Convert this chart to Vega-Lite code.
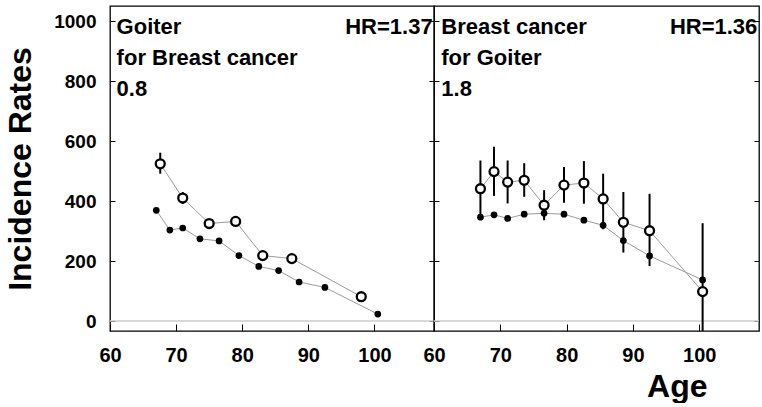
{
  "$schema": "https://vega.github.io/schema/vega-lite/v6.json",
  "padding": {"left": 4, "top": 5, "right": 0, "bottom": 0},
  "background": "white",
  "spacing": 0,
  "bounds": "flush",
  "config": {
    "view": {"stroke": "black", "strokeWidth": 1.3},
    "font": "Liberation Sans",
    "axis": {
      "domain": false, "ticks": false, "grid": true, "gridColor": "black", "gridWidth": 1, "gridOpacity": 1, "zindex": 1,
      "labelFont": "Liberation Sans", "labelFontWeight": "bold", "labelColor": "black",
      "titleFont": "Liberation Sans", "titleFontWeight": "bold", "titleColor": "black",
      "labelOverlap": false, "labelFlush": false, "labelBound": false
    }
  },
  "datasets": {
    "goiter": [
      {"type": "obs", "age": 67.6, "rate": 524, "lo": 491, "hi": 561},
      {"type": "obs", "age": 71.0, "rate": 410, "lo": 390, "hi": 430},
      {"type": "obs", "age": 75.0, "rate": 325, "lo": 315, "hi": 335},
      {"type": "obs", "age": 79.0, "rate": 332, "lo": 322, "hi": 342},
      {"type": "obs", "age": 83.1, "rate": 218, "lo": 210, "hi": 226},
      {"type": "obs", "age": 87.5, "rate": 208, "lo": 200, "hi": 216},
      {"type": "obs", "age": 98.0, "rate": 81, "lo": 74, "hi": 88},
      {"type": "exp", "age": 67.0, "rate": 369},
      {"type": "exp", "age": 69.05, "rate": 303},
      {"type": "exp", "age": 71.0, "rate": 310},
      {"type": "exp", "age": 73.6, "rate": 274},
      {"type": "exp", "age": 76.5, "rate": 267},
      {"type": "exp", "age": 79.5, "rate": 218},
      {"type": "exp", "age": 82.5, "rate": 182},
      {"type": "exp", "age": 85.5, "rate": 168},
      {"type": "exp", "age": 88.6, "rate": 130},
      {"type": "exp", "age": 92.5, "rate": 112},
      {"type": "exp", "age": 100.5, "rate": 23}
    ],
    "breast": [
      {"type": "obs", "age": 67.0, "rate": 441, "lo": 344, "hi": 535},
      {"type": "obs", "age": 69.05, "rate": 498, "lo": 417, "hi": 581},
      {"type": "obs", "age": 71.1, "rate": 463, "lo": 392, "hi": 535},
      {"type": "obs", "age": 73.6, "rate": 469, "lo": 414, "hi": 526},
      {"type": "obs", "age": 76.6, "rate": 386, "lo": 336, "hi": 436},
      {"type": "obs", "age": 79.6, "rate": 453, "lo": 394, "hi": 513},
      {"type": "obs", "age": 82.6, "rate": 460, "lo": 391, "hi": 533},
      {"type": "obs", "age": 85.5, "rate": 407, "lo": 306, "hi": 491},
      {"type": "obs", "age": 88.55, "rate": 329, "lo": 228, "hi": 430},
      {"type": "obs", "age": 92.5, "rate": 301, "lo": 183, "hi": 424},
      {"type": "obs", "age": 100.5, "rate": 98, "lo": -33, "hi": 326},
      {"type": "exp", "age": 67.0, "rate": 346},
      {"type": "exp", "age": 69.05, "rate": 354},
      {"type": "exp", "age": 71.1, "rate": 342},
      {"type": "exp", "age": 73.6, "rate": 356},
      {"type": "exp", "age": 76.6, "rate": 359},
      {"type": "exp", "age": 79.6, "rate": 356},
      {"type": "exp", "age": 82.6, "rate": 336},
      {"type": "exp", "age": 85.5, "rate": 319},
      {"type": "exp", "age": 88.55, "rate": 268},
      {"type": "exp", "age": 92.5, "rate": 217},
      {"type": "exp", "age": 100.5, "rate": 137}
    ]
  },
  "hconcat": [
    {
      "width": 324, "height": 325,
      "data": {"name": "goiter"},
      "layer": [
        {
          "mark": {"type": "line", "color": "#9a9a9a", "strokeWidth": 1},
          "encoding": {
            "x": {"field": "age", "type": "quantitative", "scale": {"domain": [60, 109], "nice": false, "zero": false},
              "axis": {"orient": "bottom", "title": null,
                "values": [60,70,80,90,100],
                "labelFontSize": 20, "labelPadding": 14,
                "gridDash": [0, 318, 7, 10]}},
            "y": {"field": "rate", "type": "quantitative", "scale": {"domain": [-33.3, 1050], "nice": false, "zero": false},
              "axis": {"orient": "left", "title": "Incidence Rates", "titleFontSize": 32, "titlePadding": 16,
                "values": [0,50,100,150,200,250,300,350,400,450,500,550,600,650,700,750,800,850,900,950,1000],
                "format": "d",
                "labelExpr": "datum.value % 200 === 0 ? datum.label : ''",
                "labelFontSize": 19, "labelPadding": 14,
                "gridDash": {"condition": {"test": "datum.value % 200 === 0", "value": [5, 314, 5]}, "value": [3, 318, 3]}}},
            "detail": {"field": "type"}
          }
        },
        {
          "data": {"values": [{}]},
          "mark": {"type": "rule", "color": "#cccccc", "strokeWidth": 1.5},
          "encoding": {
            "y": {"datum": 0, "type": "quantitative"}
          }
        },
        {
          "transform": [{"filter": "datum.type === 'obs'"}],
          "mark": {"type": "rule", "color": "black", "strokeWidth": 2},
          "encoding": {
            "x": {"field": "age", "type": "quantitative"},
            "y": {"field": "lo", "type": "quantitative"},
            "y2": {"field": "hi"}
          }
        },
        {
          "transform": [{"filter": "datum.type === 'exp'"}],
          "mark": {"type": "point", "shape": "circle", "filled": true, "color": "black", "size": 45, "opacity": 1},
          "encoding": {
            "x": {"field": "age", "type": "quantitative"},
            "y": {"field": "rate", "type": "quantitative"}
          }
        },
        {
          "transform": [{"filter": "datum.type === 'obs'"}],
          "mark": {"type": "point", "shape": "circle", "filled": false, "fill": "white", "fillOpacity": 1, "stroke": "black", "strokeWidth": 2.3, "size": 80, "opacity": 1},
          "encoding": {
            "x": {"field": "age", "type": "quantitative"},
            "y": {"field": "rate", "type": "quantitative"}
          }
        },
        {
          "data": {"values": [{}]},
          "mark": {"type": "text", "text": ["Goiter", "for Breast cancer", "0.8"], "align": "left", "baseline": "alphabetic", "lineHeight": 31, "font": "Liberation Sans", "fontWeight": "bold", "fontSize": 22, "color": "black"},
          "encoding": {
            "x": {"datum": 61.0, "type": "quantitative"},
            "y": {"datum": 957, "type": "quantitative"}
          }
        },
        {
          "data": {"values": [{}]},
          "mark": {"type": "text", "text": "HR=1.37", "align": "right", "baseline": "alphabetic", "font": "Liberation Sans", "fontWeight": "bold", "fontSize": 22, "color": "black"},
          "encoding": {
            "x": {"datum": 108.8, "type": "quantitative"},
            "y": {"datum": 957, "type": "quantitative"}
          }
        }
      ]
    },
    {
      "width": 325, "height": 325,
      "data": {"name": "breast"},
      "layer": [
        {
          "mark": {"type": "line", "color": "#9a9a9a", "strokeWidth": 1},
          "encoding": {
            "x": {"field": "age", "type": "quantitative", "scale": {"domain": [60, 109], "nice": false, "zero": false},
              "axis": {"orient": "bottom", "title": "Age", "titleFontSize": 32, "titleX": 273, "titleY": 65, "titleAlign": "right", "titleBaseline": "alphabetic",
                "values": [60,70,80,90,100],
                "labelFontSize": 20, "labelPadding": 14,
                "gridDash": [0, 318, 7, 10]}},
            "y": {"field": "rate", "type": "quantitative", "scale": {"domain": [-33.3, 1050], "nice": false, "zero": false},
              "axis": {"orient": "left", "title": null, "labels": false,
                "values": [0,50,100,150,200,250,300,350,400,450,500,550,600,650,700,750,800,850,900,950,1000],
                "gridDash": {"condition": {"test": "datum.value % 200 === 0", "value": [5, 315, 5]}, "value": [3, 319, 3]}}},
            "detail": {"field": "type"}
          }
        },
        {
          "data": {"values": [{}]},
          "mark": {"type": "rule", "color": "#cccccc", "strokeWidth": 1.5},
          "encoding": {
            "y": {"datum": 0, "type": "quantitative"}
          }
        },
        {
          "transform": [{"filter": "datum.type === 'obs'"}],
          "mark": {"type": "rule", "color": "black", "strokeWidth": 2},
          "encoding": {
            "x": {"field": "age", "type": "quantitative"},
            "y": {"field": "lo", "type": "quantitative"},
            "y2": {"field": "hi"}
          }
        },
        {
          "transform": [{"filter": "datum.type === 'exp'"}],
          "mark": {"type": "point", "shape": "circle", "filled": true, "color": "black", "size": 45, "opacity": 1},
          "encoding": {
            "x": {"field": "age", "type": "quantitative"},
            "y": {"field": "rate", "type": "quantitative"}
          }
        },
        {
          "transform": [{"filter": "datum.type === 'obs'"}],
          "mark": {"type": "point", "shape": "circle", "filled": false, "fill": "white", "fillOpacity": 1, "stroke": "black", "strokeWidth": 2.3, "size": 80, "opacity": 1},
          "encoding": {
            "x": {"field": "age", "type": "quantitative"},
            "y": {"field": "rate", "type": "quantitative"}
          }
        },
        {
          "data": {"values": [{}]},
          "mark": {"type": "text", "text": ["Breast cancer", "for Goiter", "1.8"], "align": "left", "baseline": "alphabetic", "lineHeight": 31, "font": "Liberation Sans", "fontWeight": "bold", "fontSize": 22, "color": "black"},
          "encoding": {
            "x": {"datum": 61.1, "type": "quantitative"},
            "y": {"datum": 957, "type": "quantitative"}
          }
        },
        {
          "data": {"values": [{}]},
          "mark": {"type": "text", "text": "HR=1.36", "align": "right", "baseline": "alphabetic", "font": "Liberation Sans", "fontWeight": "bold", "fontSize": 22, "color": "black"},
          "encoding": {
            "x": {"datum": 108.75, "type": "quantitative"},
            "y": {"datum": 957, "type": "quantitative"}
          }
        }
      ]
    }
  ]
}
